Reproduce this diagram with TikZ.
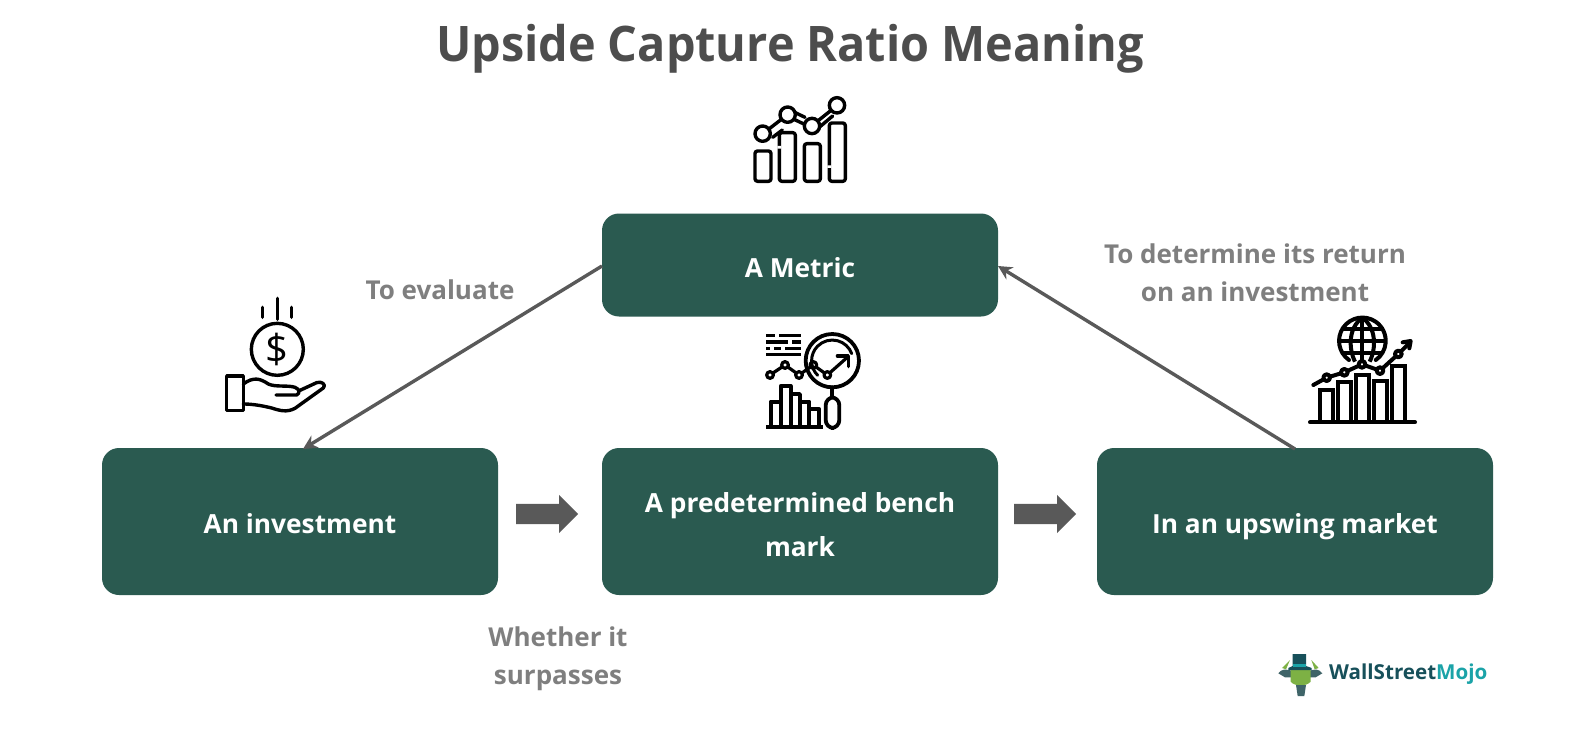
\documentclass[tikz,border=0pt]{standalone}
\usepackage{fontspec}
\setmainfont{Open Sans}
\usetikzlibrary{arrows.meta,shapes.arrows}
\definecolor{boxgreen}{HTML}{2A5A50}
\definecolor{titlegray}{HTML}{4D4D4D}
\definecolor{labelgray}{HTML}{7F7F7F}
\definecolor{arrowgray}{HTML}{595959}
\definecolor{wsmdark}{HTML}{17505A}
\definecolor{wsmteal}{HTML}{1BA3A8}
\definecolor{wsmgreen}{HTML}{7DB144}
\definecolor{wsmgray}{HTML}{3F6468}
\tikzset{
  box/.style={draw=none,fill=boxgreen,rounded corners=17pt,text=white,align=center,font=\fontsize{26.3}{44}\selectfont\bfseries,minimum width=396pt,text depth=0pt},
  lab/.style={text=labelgray,align=center,font=\fontsize{26}{38}\selectfont\bfseries},
  conn/.style={draw=arrowgray,line width=3.4pt,-{Stealth[length=14pt,width=14pt]}},
  blockarrow/.style={single arrow,draw=none,fill=arrowgray,minimum width=38pt,minimum height=62pt,single arrow head extend=9pt,inner xsep=0pt,inner ysep=10pt,anchor=tail},
  ico/.style={draw=black,line width=3.4pt,line cap=round,line join=round},
  icon/.style={x=0.3333pt,y=-0.3333pt},
}
\begin{document}
\begin{tikzpicture}[x=1pt,y=-1pt]
\useasboundingbox (0,0) rectangle (1584,730);
\fill[white] (0,0) rectangle (1584,730);
\node[text=titlegray,xscale=0.955,font=\fontsize{49}{60}\selectfont\bfseries] (title) at (790,49) {Upside Capture Ratio Meaning};
\node[box,minimum height=103pt] (metric) at (800,265) {\raisebox{-5pt}{A Metric}};
\node[box,minimum height=147pt] (invest) at (300,521.5) {\raisebox{-4.5pt}{An investment}};
\node[box,minimum height=147pt] (bench) at (800,521.5) {\rule{0pt}{25pt}A predetermined bench\\mark};
\node[box,minimum height=147pt] (market) at (1295,521.5) {\raisebox{-4.5pt}{In an upswing market}};
\node[blockarrow] (ba1) at (516,514) {};
\node[blockarrow] (ba2) at (1014,514) {};
\coordinate (m1) at (602,266);
\coordinate (i1) at (303,449);
\coordinate (m2) at (998,266);
\coordinate (u1) at (1295,449);
\draw[conn] (m1) -- (i1);
\draw[conn] (u1) -- (m2);
\node[lab] (l1) at (440,290) {To evaluate};
\node[lab] (l2) at (1255,273) {To determine its return\\on an investment};
\node[lab] (l3) at (558,659) {Whether it\\surpasses};
% icon 1
\begin{scope}[shift={(720,80)},icon]
\foreach \x/\yy/\yb in {105/213/304,178/158/304,253/191/304,328/129/304}
  \draw[ico,rounded corners=2.5pt] (\x,\yy) rectangle (\x+48,\yb);
\fill[white] (172,198) rectangle (184,206) (322,256) rectangle (334,264);
\draw[ico] (148,146)--(183,119) (158,172)--(187,150)
  (222,118)--(258,135) (226,98)--(255,112)
  (292,124)--(332,92) (300,140)--(338,108);
\foreach \x/\yy in {128/161,203/104,276/138,351/76}
  \draw[ico,fill=white] (\x,\yy) circle (23);
\end{scope}
% icon 2
\begin{scope}[shift={(200,280)},icon]
\draw[ico] (188,82)--(188,112) (232,55)--(232,118) (275,82)--(275,112);
\draw[ico] (232,208) circle (78);
\node[font=\fontsize{40}{40}\selectfont] (dollar) at (232,207) {\$};
\draw[ico] (80,288) rectangle (130,392);
\draw[ico] (130,312) .. controls (160,290) and (180,295) .. (205,312) .. controls (225,322) and (265,315) .. (285,322) .. controls (300,328) and (300,340) .. (290,345) -- (228,345);
\draw[ico] (298,332) -- (350,308) .. controls (365,302) and (380,315) .. (370,324) -- (285,385) .. controls (260,398) and (240,392) .. (215,384) .. controls (190,378) and (160,372) .. (130,372);
\end{scope}
% icon 3
\begin{scope}[shift={(740,320)},icon]
\draw[ico,line cap=butt,line width=3.2pt] (78,46)--(105,46) (118,46)--(184,46) (78,66)--(145,66) (156,66)--(184,66) (78,86)--(90,86) (103,86)--(122,86) (136,86)--(184,86) (78,104)--(184,104);
\draw[ico,line width=3.2pt] (90,165)--(135,135)--(177,165)--(220,135)--(262,165)--(322,112);
\draw[ico,line width=3.2pt] (292,108)--(325,108)--(325,140);
\foreach \x/\yy in {90/165,135/135,177/165,220/135,262/165}
  \draw[ico,line width=3.2pt,fill=white] (\x,\yy) circle (10);
\draw[ico,line width=3.8pt] (277,122) circle (80);
\draw[ico,line width=3pt] (233,166) arc (-225:-20:62);
\draw[ico,line width=3.8pt] (277,202)--(277,232);
\draw[ico,line width=3.8pt,rounded corners=8pt] (257,232) rectangle (298,324);
\draw[ico,line width=3.8pt,line cap=butt] (92,322) |- (122,245) (122,322) |- (152,198) -- (152,322) (152,222) -| (180,322) (180,245) -| (208,322) (208,268) -| (238,322);
\draw[ico,line width=3.8pt,line cap=butt] (78,322)--(248,322);
\end{scope}
% icon 4
\begin{scope}[shift={(1290,305)},icon,ico/.append style={line width=4pt}]
\draw[ico] (177,165) arc (-235:55:70);
\draw[ico,line cap=butt] (217,38) .. controls (175,68) and (175,130) .. (195,170);
\draw[ico,line cap=butt] (217,38) .. controls (259,68) and (259,130) .. (239,170);
\draw[ico,line cap=butt] (217,38)--(217,170) (152,72)--(282,72) (147,108)--(287,108) (160,143)--(274,143);
\draw[ico] (70,240)--(110,218)--(163,202)--(216,178)--(270,197)--(325,147)--(360,112);
\draw[ico] (338,112)--(362,108)--(358,130);
\foreach \x/\yy in {110/218,163/202,216/178,270/197,325/147}
  \draw[ico,fill=white] (\x,\yy) circle (10);
\foreach \x/\yy in {90/254,144/232,198/210,252/228,306/184}
  \draw[ico,line cap=butt,line join=miter] (\x,352) -- (\x,\yy) -- (\x+38,\yy) -- (\x+38,352);
\draw[ico] (60,352)--(375,352);
\end{scope}
% logo
\begin{scope}[shift={(1260,640)},icon]
\fill[wsmgray] (55,100) .. controls (65,85) and (80,88) .. (95,92) -- (95,112) -- (75,112) -- cycle;
\fill[wsmgray] (187,100) .. controls (177,85) and (162,88) .. (149,92) -- (149,112) -- (167,112) -- cycle;
\fill[wsmgreen] (66,84) -- (90,60) -- (78,88) -- cycle;
\fill[wsmgreen] (176,84) -- (154,60) -- (164,88) -- cycle;
\fill[wsmgreen] (92,90) -- (152,90) -- (152,125) .. controls (140,140) and (104,140) .. (92,125) -- cycle;
\fill[wsmdark] (98,42) -- (138,42) -- (138,78) -- (155,84) -- (155,90) -- (85,90) -- (85,84) -- (98,78) -- cycle;
\fill[wsmteal] (98,72) rectangle (138,80);
\fill[wsmgray] (108,135) -- (138,135) -- (133,168) -- (113,168) -- cycle;
\node[anchor=west,inner sep=0pt,font=\fontsize{20.6}{24}\selectfont\bfseries] (wsm) at (207,103) {\textcolor{wsmdark}{WallStreet}\textcolor{wsmteal}{Mojo}};
\end{scope}
\end{tikzpicture}
\end{document}
